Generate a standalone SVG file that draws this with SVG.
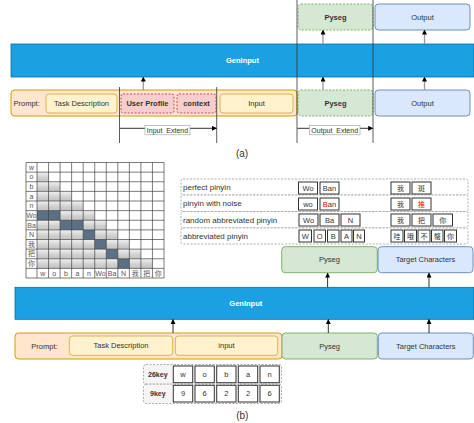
<svg xmlns="http://www.w3.org/2000/svg" width="474" height="423" viewBox="0 0 474 423">
<defs>
<marker id="ah" viewBox="0 0 6 6" refX="5.5" refY="3" markerWidth="5" markerHeight="5" markerUnits="userSpaceOnUse" orient="auto"><path d="M0,0 L6,3 L0,6 z" fill="#000"/></marker>
<linearGradient id="gc" x1="0" y1="0" x2="0" y2="1"><stop offset="0" stop-color="#f2f2f2"/><stop offset="0.6" stop-color="#cfcfcf"/><stop offset="1" stop-color="#c4c4c4"/></linearGradient>
<style>
text{font-family:"Liberation Sans",Arial,"Noto Sans CJK SC",sans-serif;font-size:7.5px;fill:#333;text-anchor:middle;dominant-baseline:central}
.b{font-weight:bold}
.l{text-anchor:start}
.pre{white-space:pre;font-size:7px}
.gen{fill:#1ba1e2;stroke:#006eaf;stroke-width:0.8}
.gt{fill:#fff;font-weight:bold}
.pr{fill:#ffe6cc;stroke:#d79b00;stroke-width:1}
.ye{fill:#fff2cc;stroke:#d6b656;stroke-width:1}
.pk{fill:#f8cecc;stroke:#b85450;stroke-width:1;stroke-dasharray:2 1.5}
.gr{fill:#d5e8d4;stroke:#82b366;stroke-width:1}
.grd{fill:#d5e8d4;stroke:#82b366;stroke-width:1;stroke-dasharray:2 1.5}
.bl{fill:#dae8fc;stroke:#6c8ebf;stroke-width:1}
.vl{stroke:#333;stroke-width:0.8;fill:none}
.ar{stroke:#999;stroke-width:1.3;fill:none;marker-end:url(#ah)}
.ark{stroke:#333;stroke-width:1;fill:none;marker-end:url(#ah)}
.dsh{fill:#fff;stroke:#999;stroke-width:0.8;stroke-dasharray:2 1.5}
.dshg{fill:#f5f5f5;stroke:#999;stroke-width:0.8;stroke-dasharray:2 1.5}
.bx{fill:#fff;stroke:#333;stroke-width:1}
.lbl{fill:#fff;stroke:#999;stroke-width:0.6}
.grid{stroke:#444;stroke-width:0.7;fill:none}
.m{font-size:7px;fill:#555}
.ck{font-size:7px}
.red{fill:#ff0000}
</style>
</defs>

<!-- ===== (a) ===== -->
<g id="a-geninput"><rect class="gen" x="11" y="44" width="463" height="33"/><text class="gt" x="242.5" y="60.5">GenInput</text></g>
<g id="a-prompt"><rect class="pr" x="11" y="90" width="286" height="26" rx="3.5"/><text class="l" x="13.5" y="103">Prompt:</text></g>
<g id="a-task"><rect class="ye" x="46" y="94" width="71" height="19" rx="3"/><text x="81.5" y="103.5">Task Description</text></g>
<g id="a-profile"><rect class="pk" x="121" y="94" width="53" height="19" rx="2"/><text class="b" x="147.5" y="103.5">User Profile</text></g>
<g id="a-context"><rect class="pk" x="177" y="94" width="39" height="19" rx="2"/><text class="b" x="196.5" y="103.5">context</text></g>
<g id="a-input"><rect class="ye" x="220" y="94" width="73" height="19" rx="3"/><text x="256.5" y="103.5">Input</text></g>
<g id="a-pyseg-in"><rect class="grd" x="298" y="90" width="75" height="26" rx="3"/><text class="b" x="335.5" y="103">Pyseg</text></g>
<g id="a-output-in"><rect class="bl" x="375" y="90" width="95" height="26" rx="3.5"/><text x="422.5" y="103">Output</text></g>
<g id="a-pyseg-out"><rect class="grd" x="298" y="4" width="75" height="26" rx="3"/><text class="b" x="335.5" y="17">Pyseg</text></g>
<g id="a-output-out"><rect class="bl" x="375" y="4" width="95" height="26" rx="3.5"/><text x="422.5" y="17">Output</text></g>

<g id="a-connectors">
<line class="vl" x1="119.5" y1="87" x2="119.5" y2="143"/>
<line class="vl" x1="216.7" y1="87" x2="216.7" y2="143"/>
<line class="vl" x1="297" y1="0" x2="297" y2="143"/>
<line class="vl" x1="373" y1="0" x2="373" y2="143"/>
<line class="ar" x1="143.3" y1="90" x2="143.3" y2="77"/>
<line class="ar" x1="323" y1="90" x2="323" y2="77"/>
<line class="ar" x1="424.5" y1="90" x2="424.5" y2="77"/>
<line class="ar" x1="323" y1="44" x2="323" y2="30"/>
<line class="ar" x1="424.5" y1="44" x2="424.5" y2="30"/>
<line class="ark" x1="120" y1="128.3" x2="216.5" y2="128.3"/>
<line class="ark" x1="297.5" y1="128.3" x2="372.8" y2="128.3"/>
</g>
<g id="a-input-extend"><rect class="lbl" x="145" y="125.3" width="45" height="9.5"/><text class="pre" x="167.5" y="130.3">Input  Extend</text></g>
<g id="a-output-extend"><rect class="lbl" x="309.3" y="125.3" width="50.7" height="9.5"/><text class="pre" x="334.7" y="130.3">Output  Extend</text></g>
<text x="242" y="153" style="font-size:10px">(a)</text>

<!-- ===== (b) matrix ===== -->
<g id="b-matrix">
<rect x="26" y="162.5" width="138" height="115.5" fill="#fff"/>
<rect fill="url(#gc)" x="37" y="172.13" width="11.55" height="9.63"/>
<rect fill="url(#gc)" x="37" y="181.75" width="23.09" height="9.63"/>
<rect fill="url(#gc)" x="37" y="191.38" width="34.64" height="9.63"/>
<rect fill="url(#gc)" x="37" y="201" width="46.18" height="9.63"/>
<rect fill="url(#gc)" x="37" y="210.63" width="57.73" height="9.63"/>
<rect fill="url(#gc)" x="37" y="220.25" width="69.27" height="9.63"/>
<rect fill="url(#gc)" x="37" y="229.88" width="80.82" height="9.63"/>
<rect fill="url(#gc)" x="37" y="239.5" width="92.36" height="9.63"/>
<rect fill="url(#gc)" x="37" y="249.13" width="103.91" height="9.63"/>
<rect fill="url(#gc)" x="37" y="258.75" width="115.45" height="9.63"/>
<g fill="#5b6f86">
<rect x="37" y="210.63" width="23.09" height="9.63"/>
<rect x="60.09" y="220.25" width="23.09" height="9.63"/>
<rect x="83.18" y="229.88" width="11.55" height="9.63"/>
<rect x="94.73" y="239.5" width="11.55" height="9.63"/>
<rect x="106.27" y="249.13" width="11.55" height="9.63"/>
<rect x="117.82" y="258.75" width="11.55" height="9.63"/>
</g>
<path class="grid" d="M26,162.5H164M26,172.13H164M26,181.75H164M26,191.38H164M26,201H164M26,210.63H164M26,220.25H164M26,229.88H164M26,239.5H164M26,249.13H164M26,258.75H164M26,268.38H164M26,278H164M26,162.5V278M37,162.5V278M48.55,162.5V278M60.09,162.5V278M71.64,162.5V278M83.18,162.5V278M94.73,162.5V278M106.27,162.5V278M117.82,162.5V278M129.36,162.5V278M140.91,162.5V278M152.45,162.5V278M164,162.5V278"/>
<g class="m">
<text class="m" x="31.5" y="167.3">w</text>
<text class="m" x="31.5" y="176.9">o</text>
<text class="m" x="31.5" y="186.6">b</text>
<text class="m" x="31.5" y="196.2">a</text>
<text class="m" x="31.5" y="205.8">n</text>
<text class="m" x="31.5" y="215.4">Wo</text>
<text class="m" x="31.5" y="225.1">Ba</text>
<text class="m" x="31.5" y="234.7">N</text>
<text class="m" x="31.5" y="244.3">我</text>
<text class="m" x="31.5" y="253.9">把</text>
<text class="m" x="31.5" y="263.6">你</text>
<text class="m" x="42.77" y="273.2">w</text>
<text class="m" x="54.32" y="273.2">o</text>
<text class="m" x="65.86" y="273.2">b</text>
<text class="m" x="77.41" y="273.2">a</text>
<text class="m" x="88.95" y="273.2">n</text>
<text class="m" x="100.5" y="273.2">Wo</text>
<text class="m" x="112.05" y="273.2">Ba</text>
<text class="m" x="123.59" y="273.2">N</text>
<text class="m" x="135.14" y="273.2">我</text>
<text class="m" x="146.68" y="273.2">把</text>
<text class="m" x="158.23" y="273.2">你</text>
</g>
</g>

<!-- ===== (b) examples ===== -->
<g id="b-examples">
<rect class="dsh" x="181" y="179" width="287" height="16" rx="2"/>
<rect class="dsh" x="181" y="195" width="287" height="16.5" rx="2"/>
<rect class="dsh" x="181" y="211.5" width="287" height="16.5" rx="2"/>
<rect class="dsh" x="181" y="228" width="287" height="16" rx="2"/>
<text class="l" x="183" y="187.5" style="font-size:8px">perfect pinyin</text>
<text class="l" x="183" y="203.5" style="font-size:8px">pinyin with noise</text>
<text class="l" x="183" y="220" style="font-size:8px">random abbreviated pinyin</text>
<text class="l" x="183" y="236" style="font-size:8px">abbreviated pinyin</text>
<rect class="bx" x="298.5" y="182" width="19" height="12"/><text x="308" y="188">Wo</text>
<rect class="bx" x="320" y="182" width="19" height="12"/><text x="329.5" y="188">Ban</text>
<rect class="bx" x="391" y="182" width="19" height="12"/><text class="ck" x="400.5" y="188">我</text>
<rect class="bx" x="412" y="182" width="19" height="12"/><text class="ck" x="421.5" y="188">斑</text>
<rect class="bx" x="298.5" y="198" width="19" height="12"/><text x="308" y="204">wo</text>
<rect class="bx" x="320" y="198" width="19" height="12"/><text x="329.5" y="204"><tspan class="red">B</tspan>an</text>
<rect class="bx" x="391" y="198" width="19" height="12"/><text class="ck" x="400.5" y="204">我</text>
<rect class="bx" x="412" y="198" width="19" height="12"/><text class="ck red" x="421.5" y="204">推</text>
<rect class="bx" x="299" y="214" width="19" height="12"/><text x="308.5" y="220">Wo</text>
<rect class="bx" x="320" y="214" width="19" height="12"/><text x="329.5" y="220">Ba</text>
<rect class="bx" x="341" y="214" width="19" height="12"/><text x="350.5" y="220">N</text>
<rect class="bx" x="391" y="214" width="19" height="12"/><text class="ck" x="400.5" y="220">我</text>
<rect class="bx" x="412" y="214" width="19" height="12"/><text class="ck" x="421.5" y="220">把</text>
<rect class="bx" x="433" y="214" width="19.5" height="12"/><text class="ck" x="442.7" y="220">你</text>
<rect class="bx" x="299" y="230" width="12.5" height="12"/><text x="305.2" y="236">W</text>
<rect class="bx" x="314" y="230" width="11.5" height="12"/><text x="319.7" y="236">O</text>
<rect class="bx" x="327.5" y="230" width="11.5" height="12"/><text x="333.2" y="236">B</text>
<rect class="bx" x="341" y="230" width="11" height="12"/><text x="346.5" y="236">A</text>
<rect class="bx" x="353.5" y="230" width="11" height="12"/><text x="359" y="236">N</text>
<rect class="bx" x="391" y="230" width="12" height="12"/><text class="ck" x="397" y="236">哇</text>
<rect class="bx" x="404.5" y="230" width="12" height="12"/><text class="ck" x="410.5" y="236">哦</text>
<rect class="bx" x="418" y="230" width="12" height="12"/><text class="ck" x="424" y="236">不</text>
<rect class="bx" x="431.5" y="230" width="11.5" height="12"/><text class="ck" x="437.2" y="236">螯</text>
<rect class="bx" x="444.5" y="230" width="12" height="12"/><text class="ck" x="450.5" y="236">你</text>
</g>

<!-- ===== (b) flow ===== -->
<g id="b-pyseg-out"><rect class="gr" x="281.7" y="246.7" width="95.6" height="26" rx="3.5"/><text x="329.5" y="259.7">Pyseg</text></g>
<g id="b-target-out"><rect class="bl" x="378" y="246.7" width="95" height="26" rx="3.5"/><text x="425.5" y="259.7">Target Characters</text></g>
<g id="b-geninput"><rect class="gen" x="15" y="287.3" width="459" height="32"/><text class="gt" x="245.8" y="303.3">GenInput</text></g>
<g id="b-prompt"><rect class="pr" x="15" y="333" width="267" height="26" rx="3.5"/><text x="44.5" y="346">Prompt:</text></g>
<g id="b-task"><rect class="ye" x="69.3" y="336" width="103.4" height="19.3" rx="3"/><text x="121" y="345.6">Task Description</text></g>
<g id="b-input"><rect class="ye" x="175.3" y="336" width="102.4" height="19.3" rx="3"/><text x="226.5" y="345.6">input</text></g>
<g id="b-pyseg-in"><rect class="gr" x="282" y="333" width="95.3" height="26" rx="3.5"/><text x="329.6" y="346">Pyseg</text></g>
<g id="b-target-in"><rect class="bl" x="378.3" y="333" width="95" height="26" rx="3.5"/><text x="425.8" y="346">Target Characters</text></g>

<g id="b-connectors">
<line class="ark" x1="173" y1="333" x2="173" y2="319.5"/>
<line class="ark" x1="328.3" y1="333" x2="328.3" y2="319.5"/>
<line class="ark" x1="429" y1="333" x2="429" y2="319.5"/>
<line class="ark" x1="327.6" y1="287.3" x2="327.6" y2="273"/>
<line class="ark" x1="429" y1="287.3" x2="429" y2="273"/>
</g>

<g id="b-keys">
<rect class="dshg" x="143.5" y="364.5" width="138" height="19.7" rx="2.5"/>
<rect class="dshg" x="143.5" y="384.2" width="138" height="19.3" rx="2.5"/>
<text class="b" x="157.8" y="374.3" style="font-size:7px">26key</text>
<text class="b" x="157.8" y="393.6" style="font-size:7px">9key</text>
<rect class="bx" x="173.3" y="366" width="19.4" height="16.7"/><text x="183" y="374.3">w</text>
<rect class="bx" x="195" y="366" width="19.3" height="16.7"/><text x="204.6" y="374.3">o</text>
<rect class="bx" x="216.7" y="366" width="19.3" height="16.7"/><text x="226.3" y="374.3">b</text>
<rect class="bx" x="238.3" y="366" width="19.4" height="16.7"/><text x="248" y="374.3">a</text>
<rect class="bx" x="260" y="366" width="19.3" height="16.7"/><text x="269.6" y="374.3">n</text>
<rect class="bx" x="173.3" y="385.3" width="19.4" height="16.7"/><text x="183" y="393.6">9</text>
<rect class="bx" x="195" y="385.3" width="19.3" height="16.7"/><text x="204.6" y="393.6">6</text>
<rect class="bx" x="216.7" y="385.3" width="19.3" height="16.7"/><text x="226.3" y="393.6">2</text>
<rect class="bx" x="238.3" y="385.3" width="19.4" height="16.7"/><text x="248" y="393.6">2</text>
<rect class="bx" x="260" y="385.3" width="19.3" height="16.7"/><text x="269.6" y="393.6">6</text>
</g>
<text x="242.3" y="415" style="font-size:10px">(b)</text>
</svg>
